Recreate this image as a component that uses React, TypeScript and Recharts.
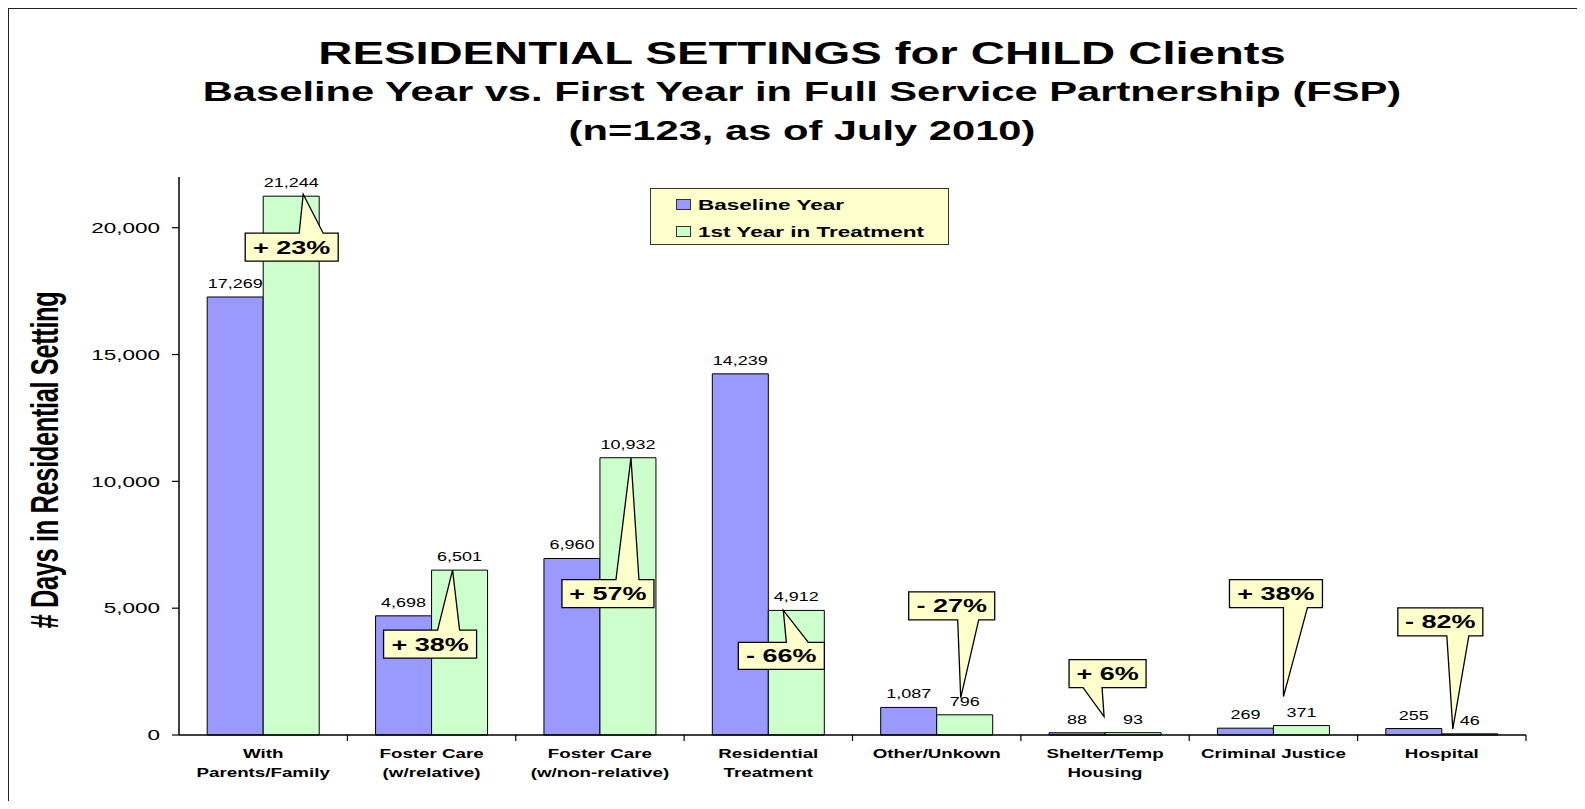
import React from "react";
import {
    Bar,
    BarChart,
    LabelList,
    Legend,
    XAxis,
    YAxis,
} from "recharts";

const categories = [
    ["With", "Parents/Family"],
    ["Foster Care", "(w/relative)"],
    ["Foster Care", "(w/non-relative)"],
    ["Residential", "Treatment"],
    ["Other/Unkown"],
    ["Shelter/Temp", "Housing"],
    ["Criminal Justice"],
    ["Hospital"],
];
const baselineDays = [17269, 4698, 6960, 14239, 1087, 88, 269, 255];
const treatmentDays = [21244, 6501, 10932, 4912, 796, 93, 371, 46];
const yTicks = [0, 5000, 10000, 15000, 20000];
const seriesOrder = ["baseline", "treatment"];

// callout geometry, relative to the top-left corner of the green bar
const calloutLayout = [
    { tip: [40, -2], box: [-18, 37, 93, 28], base: [36, 60] },
    { tip: [21, 0], box: [-48, 60, 93, 28], base: [6, 28] },
    { tip: [31, 0], box: [-38, 122, 92, 28], base: [16, 39] },
    { tip: [15, 0], box: [-30, 32, 86, 27], base: [18, 40] },
    { tip: [24, -17], box: [-28, -123, 86, 28], base: [21, 42] },
    { tip: [-1, -16], box: [-36, -73, 77, 28], base: [-22, -3] },
    { tip: [10, -29], box: [-44, -146, 93, 28], base: [10, 34] },
    { tip: [11, -5], box: [-44, -126, 85, 28], base: [5, 27] },
];

const FONT = "Arial, 'Liberation Sans', Helvetica, sans-serif";
const SX = 1.5; // text is drawn wide, like the stretched slide

const data = categories.map((lines, i) => ({
    name: lines.join(" "),
    lines,
    baseline: baselineDays[i],
    treatment: treatmentDays[i],
}));

const fmt = (v: number) => Number(v).toLocaleString("en-US");

function pctChange(i: number) {
    const c = Math.round(((treatmentDays[i] - baselineDays[i]) / baselineDays[i]) * 100);
    return `${c >= 0 ? "+" : "-"} ${Math.abs(c)}%`;
}

function WideText({ x, y, size, bold, anchor = "middle", children, dy }: any) {
    return (
        <text
            transform={`translate(${x},${y}) scale(${SX},1)`}
            textAnchor={anchor}
            dy={dy}
            fontFamily={FONT}
            fontSize={size}
            fontWeight={bold ? "bold" : "normal"}
            fill="#000">
            {children}
        </text>
    );
}

function YTick({ x, y, payload }: any) {
    return (
        <WideText x={x} y={y} size={15} anchor="end" dy="0.35em">
            {fmt(payload.value)}
        </WideText>
    );
}

function XTick({ x, y, payload, index }: any) {
    const half = payload?.offset ?? 84.2;
    const lines = categories[payload?.index ?? index] ?? [String(payload.value)];
    return (
        <g>
            <line x1={x + half} x2={x + half} y1={y} y2={y + 6} stroke="#000" strokeWidth={1.2} />
            {lines.map((ln, k) => (
                <WideText key={k} x={x} y={y + 23 + k * 19} size={12.5} bold>
                    {ln}
                </WideText>
            ))}
        </g>
    );
}

function ValueLabel({ x, y, width, value }: any) {
    return (
        <WideText x={Number(x) + Number(width) / 2} y={Number(y) - 9} size={12}>
            {fmt(value)}
        </WideText>
    );
}

function Callout(props: any) {
    const { x, y, value } = props;
    const i = props.index ?? treatmentDays.indexOf(value);
    const lay = calloutLayout[i];
    if (!lay) return null;
    const x0 = Number(x);
    const y0 = Number(y);
    const tx = x0 + lay.tip[0];
    const ty = y0 + lay.tip[1];
    const L = x0 + lay.box[0];
    const T = y0 + lay.box[1];
    const R = L + lay.box[2];
    const B = T + lay.box[3];
    const b1 = x0 + lay.base[0];
    const b2 = x0 + lay.base[1];
    const d =
        ty < T
            ? `M${L},${T} L${b1},${T} L${tx},${ty} L${b2},${T} L${R},${T} L${R},${B} L${L},${B} Z`
            : `M${L},${T} L${R},${T} L${R},${B} L${b2},${B} L${tx},${ty} L${b1},${B} L${L},${B} Z`;
    return (
        <g>
            <path d={d} fill="#FFFFCC" stroke="#000" strokeWidth={1.3} strokeLinejoin="miter" />
            <WideText x={(L + R) / 2} y={(T + B) / 2} size={18} bold dy="0.36em">
                {pctChange(i)}
            </WideText>
        </g>
    );
}

function LegendBox({ payload }: any) {
    const items = [...(payload || [])].sort(
        (a: any, b: any) => seriesOrder.indexOf(a.dataKey) - seriesOrder.indexOf(b.dataKey)
    );
    return (
        <div
            style={{
                position: "relative",
                width: 299,
                height: 57,
                boxSizing: "border-box",
                background: "#FFFFCC",
                border: "1px solid #333",
                fontFamily: FONT,
            }}>
            {items.map((item: any, k: number) => (
                <div
                    key={item.value}
                    style={{
                        position: "absolute",
                        left: 25,
                        top: 5 + k * 27,
                        height: 20,
                        display: "flex",
                        alignItems: "center",
                    }}>
                    <span
                        style={{
                            width: 13,
                            height: 9,
                            background: item.color,
                            border: "1px solid #333",
                            marginRight: 7,
                        }}
                    />
                    <span
                        style={{
                            display: "inline-block",
                            fontSize: 15,
                            fontWeight: "bold",
                            transform: `scaleX(${SX})`,
                            transformOrigin: "left center",
                            whiteSpace: "nowrap",
                            color: "#000",
                        }}>
                        {item.value}
                    </span>
                </div>
            ))}
        </div>
    );
}

export default function App() {
    return (
        <div
            style={{
                position: "relative",
                width: 1585,
                height: 809,
                margin: -8,
                overflow: "hidden",
                background: "#fff",
            }}>
            <div
                style={{
                    position: "absolute",
                    left: 7,
                    top: 7,
                    width: 1700,
                    height: 900,
                    borderTop: "2px solid #222",
                    borderLeft: "2px solid #222",
                }}
            />
            <svg
                width={1585}
                height={809}
                style={{ position: "absolute", left: 0, top: 0 }}>
                <WideText x={802} y={64} size={31.5} bold>
                    RESIDENTIAL SETTINGS for CHILD Clients
                </WideText>
                <WideText x={802} y={101} size={27.8} bold>
                    Baseline Year vs. First Year in Full Service Partnership (FSP)
                </WideText>
                <WideText x={802} y={140} size={27.8} bold>
                    (n=123, as of July 2010)
                </WideText>
                <text
                    transform={`translate(58,460) scale(${SX},1) rotate(-90)`}
                    textAnchor="middle"
                    fontFamily={FONT}
                    fontSize={25.5}
                    fontWeight="bold"
                    letterSpacing={-0.4}
                    fill="#000">
                    # Days in Residential Setting
                </text>
            </svg>
            <div style={{ position: "absolute", left: 0, top: 0 }}>
                <BarChart
                    width={1585}
                    height={809}
                    data={data}
                    margin={{ top: 177, right: 59, bottom: 24, left: 79 }}
                    barCategoryGap="16.75%"
                    barGap={0}>
                    <XAxis
                        dataKey="name"
                        height={50}
                        interval={0}
                        tickLine={false}
                        tickSize={0}
                        tickMargin={0}
                        axisLine={{ stroke: "#000", strokeWidth: 1.5 }}
                        tick={<XTick />}
                    />
                    <XAxis
                        xAxisId="frame"
                        dataKey="name"
                        orientation="top"
                        height={0}
                        tick={false}
                        tickLine={false}
                        axisLine={{ stroke: "#999", strokeWidth: 1.5 }}
                    />
                    <YAxis
                        width={100}
                        domain={[0, 22000]}
                        ticks={yTicks}
                        tickSize={7}
                        tickMargin={12}
                        tickLine={{ stroke: "#000", strokeWidth: 1.2 }}
                        axisLine={{ stroke: "#000", strokeWidth: 1.5 }}
                        tick={<YTick />}
                    />
                    <YAxis
                        yAxisId="frame"
                        orientation="right"
                        width={0}
                        domain={[0, 22000]}
                        tick={false}
                        tickLine={false}
                        axisLine={{ stroke: "#999", strokeWidth: 1.5 }}
                    />
                    <Legend
                        layout="vertical"
                        align="center"
                        verticalAlign="middle"
                        wrapperStyle={{ left: 650, top: 188, width: 299, height: 57 }}
                        content={<LegendBox />}
                    />
                    <Bar
                        dataKey="baseline"
                        name="Baseline Year"
                        fill="#9999FF"
                        stroke="#000"
                        strokeWidth={1}
                        isAnimationActive={false}>
                        <LabelList dataKey="baseline" content={<ValueLabel />} />
                    </Bar>
                    <Bar
                        dataKey="treatment"
                        name="1st Year in Treatment"
                        fill="#CCFFCC"
                        stroke="#000"
                        strokeWidth={1}
                        isAnimationActive={false}>
                        <LabelList dataKey="treatment" content={<ValueLabel />} />
                        <LabelList dataKey="treatment" content={<Callout />} />
                    </Bar>
                </BarChart>
            </div>
        </div>
    );
}
